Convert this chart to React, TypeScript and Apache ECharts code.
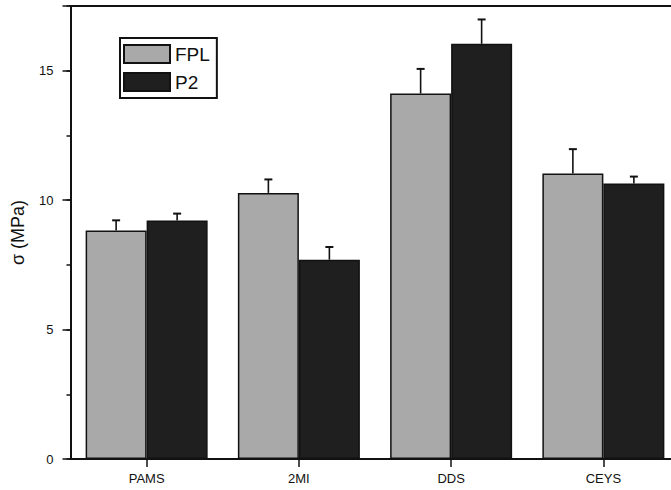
import React, { useEffect, useRef } from "react";
import * as echarts from "echarts";

const categories = ["PAMS", "2MI", "DDS", "CEYS"];
const seriesNames = ["FPL", "P2"];
const fplValues = [8.83, 10.28, 14.12, 11.03];
const p2Values = [9.21, 7.7, 16.04, 10.64];
const fplErrors = [0.39, 0.52, 0.95, 0.94];
const p2Errors = [0.27, 0.49, 0.94, 0.27];
const yMin = 0;
const yMax = 17.5;
const yMajorInterval = 5;
const yMinorInterval = 2.5;

const FONT = "'Liberation Sans', Arial, sans-serif";
const BAR_WIDTH = 61;

export default function App() {
  const ref = useRef<HTMLDivElement>(null);

  useEffect(() => {
    if (!ref.current) return;
    const chart = echarts.init(ref.current, undefined, { renderer: "svg" });

    const makeErrorSeries = (values: number[], errors: number[], offset: number) => ({
      type: "custom",
      xAxisIndex: 0,
      yAxisIndex: 0,
      z: 5,
      silent: true,
      data: values.map((v, i) => [i, v, errors[i]]),
      encode: { x: 0, y: 1 },
      renderItem: (params: any, api: any) => {
        const idx = api.value(0);
        const top = api.value(1);
        const err = api.value(2);
        const p0 = api.coord([idx, top]);
        const p1 = api.coord([idx, top + err]);
        const x = p0[0] + offset;
        const style = { stroke: "#111", lineWidth: 1.6 };
        return {
          type: "group",
          children: [
            { type: "line", shape: { x1: x, y1: p0[1], x2: x, y2: p1[1] }, style },
            { type: "line", shape: { x1: x - 4, y1: p1[1], x2: x + 4, y2: p1[1] }, style: { stroke: "#111", lineWidth: 2 } },
          ],
        };
      },
    });

    chart.setOption({
      animation: false,
      backgroundColor: "#fff",
      textStyle: { fontFamily: FONT },
      grid: { left: 70.5, top: 6, width: 609, height: 453, containLabel: false },
      legend: {
        data: seriesNames,
        orient: "vertical",
        left: 120,
        top: 38,
        itemWidth: 46,
        itemHeight: 18,
        itemGap: 8,
        itemTextGap: 5,
        padding: [6, 7, 6, 3],
        borderColor: "#111",
        borderWidth: 2,
        icon: "rect",
        textStyle: { fontSize: 19, color: "#111", fontFamily: FONT, lineHeight: 18 },
      },
      xAxis: {
        type: "category",
        data: categories,
        boundaryGap: true,
        axisLine: { show: true, lineStyle: { color: "#111", width: 2 } },
        axisTick: { show: true, alignWithLabel: true, length: 8, lineStyle: { color: "#111", width: 1.5 } },
        axisLabel: { fontSize: 13, color: "#111", margin: 13, fontFamily: FONT },
        splitLine: { show: false },
      },
      yAxis: [
        {
          type: "value",
          position: "left",
          min: yMin,
          max: yMax,
          interval: yMajorInterval,
          name: "σ (MPa)",
          nameLocation: "middle",
          nameGap: 44,
          nameTextStyle: { fontSize: 18, color: "#111", fontFamily: FONT },
          axisLine: { show: true, lineStyle: { color: "#111", width: 2 } },
          axisTick: { show: true, length: 8, lineStyle: { color: "#111", width: 1.5 } },
          axisLabel: {
            fontSize: 13,
            color: "#111",
            margin: 17,
            fontFamily: FONT,
            formatter: (v: number) => (v % yMajorInterval === 0 ? String(v) : ""),
          },
          splitLine: { show: false },
        },
        {
          type: "value",
          position: "left",
          offset: 0,
          min: yMin,
          max: yMax,
          interval: yMinorInterval,
          axisLine: { show: false },
          axisTick: { show: true, length: 4, lineStyle: { color: "#111", width: 1.5 } },
          axisLabel: { show: false },
          splitLine: { show: false },
        },
      ],
      graphic: [
        {
          type: "line",
          shape: { x1: 70, y1: 6, x2: 700, y2: 6 },
          style: { stroke: "#111", lineWidth: 2 },
          z: 10,
        },
      ],
      series: [
        {
          name: seriesNames[0],
          type: "bar",
          data: fplValues,
          barWidth: BAR_WIDTH,
          barGap: "0%",
          itemStyle: { color: "#a9a9a9", borderColor: "#111", borderWidth: 1.5 },
        },
        {
          name: seriesNames[1],
          type: "bar",
          data: p2Values,
          barWidth: BAR_WIDTH,
          barGap: "0%",
          itemStyle: { color: "#1f1f1f", borderColor: "#111", borderWidth: 1.5 },
        },
        makeErrorSeries(fplValues, fplErrors, -BAR_WIDTH / 2),
        makeErrorSeries(p2Values, p2Errors, BAR_WIDTH / 2),
      ],
    });

    return () => chart.dispose();
  }, []);

  return (
    <div
      ref={ref}
      style={{ position: "fixed", left: 0, top: 0, width: 700, height: 490, background: "#fff" }}
    />
  );
}
